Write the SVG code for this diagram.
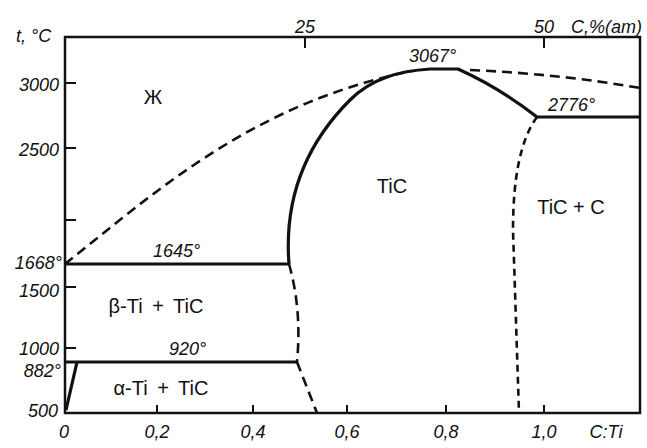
<svg xmlns="http://www.w3.org/2000/svg" width="647" height="448" viewBox="0 0 647 448">
<style>
.frame{fill:none;stroke:#111;stroke-width:2.5}
.tick{stroke:#111;stroke-width:2}
.solid{fill:none;stroke:#111;stroke-width:3.2;stroke-linejoin:round}
.dash{fill:none;stroke:#111;stroke-width:2.6;stroke-dasharray:10 6}
.dot{fill:none;stroke:#111;stroke-width:2.6;stroke-dasharray:7 5}
text{font-family:"Liberation Sans",Arial,sans-serif;fill:#111}
.num{font-size:18px;font-style:italic}
.ph{font-size:20px}
.wide{word-spacing:4px}
</style>
<rect width="647" height="448" fill="#fff"/>
<g id="axes">
<rect class="frame" x="65" y="37" width="575" height="376"/>
<path class="tick" d="M65,83H76M65,148H76M65,220H76M65,287H76M65,348H76"/>
<path class="tick" d="M157,413V405M253,413V405M347,413V405M446,413V405M544,413V405"/>
<path class="tick" d="M305,37V48M544,37V48"/>
</g>
<g id="labels-axes">
<text class="num" x="16" y="42">t, °C</text>
<text class="num" x="59" y="91" text-anchor="end">3000</text>
<text class="num" x="59" y="156" text-anchor="end">2500</text>
<text class="num" x="62" y="269" text-anchor="end">1668°</text>
<text class="num" x="59" y="297" text-anchor="end">1500</text>
<text class="num" x="59" y="355" text-anchor="end">1000</text>
<text class="num" x="61" y="377" text-anchor="end">882°</text>
<text class="num" x="58" y="417" text-anchor="end">500</text>
<text class="num" x="64" y="438" text-anchor="middle">0</text>
<text class="num" x="157" y="438" text-anchor="middle">0,2</text>
<text class="num" x="253" y="438" text-anchor="middle">0,4</text>
<text class="num" x="347" y="438" text-anchor="middle">0,6</text>
<text class="num" x="446" y="438" text-anchor="middle">0,8</text>
<text class="num" x="544" y="438" text-anchor="middle">1,0</text>
<text class="num" x="606" y="438" text-anchor="middle">C:Ti</text>
<text class="num" x="305" y="33" text-anchor="middle">25</text>
<text class="num" x="544" y="33" text-anchor="middle">50</text>
<text class="num" x="571" y="33">C,%(ат)</text>
</g>
<g id="curves">
<path class="dash" d="M65,264 C160,188 255,103 412,71"/>
<path class="dash" d="M470,70 Q560,74 640,88"/>
<path class="solid" d="M289,264 C284,200 305,145 350,100 C372,78 400,71 430,69 L458,69 Q500,88 537,117 L640,117"/>
<path class="solid" d="M65,264H289"/>
<path class="solid" d="M65,362H297"/>
<path class="solid" d="M66,410L77,362"/>
<path class="dash" d="M289,264 Q302,310 297,362"/>
<path class="dash" d="M297,362 L317,413"/>
<path class="dot" d="M537,117 C520,140 513,180 513,230 L519,413"/>
</g>
<g id="labels-phases">
<text class="num" x="153" y="257">1645°</text>
<text class="num" x="169" y="355">920°</text>
<text class="num" x="409" y="62">3067°</text>
<text class="num" x="548" y="111">2776°</text>
<text class="ph" x="153" y="104" text-anchor="middle">Ж</text>
<text class="ph" x="392" y="193" text-anchor="middle">TiC</text>
<text class="ph" x="571" y="214" text-anchor="middle">TiC + C</text>
<text class="ph wide" x="156" y="313" text-anchor="middle">β-Ti + TiC</text>
<text class="ph wide" x="161" y="395" text-anchor="middle">α-Ti + TiC</text>
</g>
</svg>
